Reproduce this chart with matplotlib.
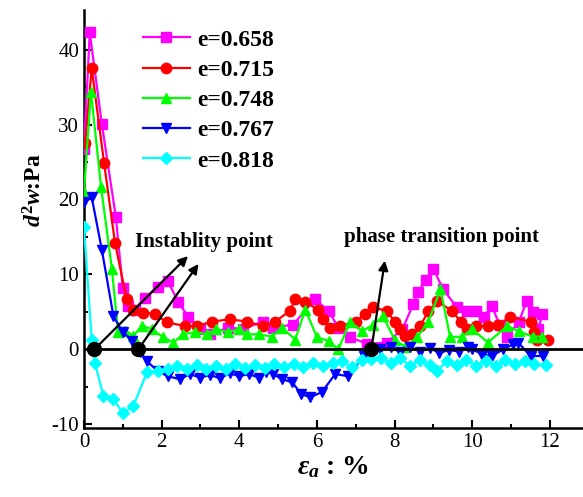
import matplotlib
matplotlib.use("Agg")
import matplotlib.pyplot as plt

plt.rcParams['font.family'] = ['Liberation Serif', 'DejaVu Serif']
plt.rcParams['mathtext.fontset'] = 'custom'
plt.rcParams['mathtext.it'] = 'Liberation Serif:italic:bold'
plt.rcParams['mathtext.rm'] = 'Liberation Serif:bold'
plt.rcParams['mathtext.bf'] = 'Liberation Serif:bold'
plt.rcParams['axes.unicode_minus'] = False

labels = ["e=0.658", "e=0.715", "e=0.748", "e=0.767", "e=0.818"]

x658 = [0, 0.15, 0.46, 0.82, 1.0, 1.14, 1.31, 1.57, 1.9, 2.16, 2.43, 2.69, 2.99, 3.25, 3.7, 4.1, 4.6, 4.87,
        5.39, 5.95, 6.3, 6.55, 6.86, 7.3, 7.8, 8.2, 8.48, 8.6, 8.8, 9.0, 9.25, 9.6, 9.87, 10.1, 10.3, 10.5,
        10.7, 10.9, 11.2, 11.4, 11.55, 11.7, 11.8]
y658 = [26.7, 42.3, 30.1, 17.7, 8.2, 5.8, 5.3, 6.9, 8.3, 9.1, 6.3, 4.3, 2.7, 2.0, 2.9, 2.7, 3.7, 2.9,
        3.3, 6.7, 5.1, 2.9, 1.6, 0.7, 0.9, 2.7, 6.0, 7.6, 9.3, 10.7, 8.0, 5.6, 5.1, 5.1, 4.3, 5.8,
        3.3, 1.7, 3.7, 6.4, 5.0, 2.7, 4.7]

x715 = [0.03, 0.2, 0.52, 0.8, 1.1, 1.27, 1.52, 1.83, 2.13, 2.6, 2.9, 3.3, 3.76, 4.2, 4.6, 4.92, 5.3, 5.44,
        5.7, 6.03, 6.16, 6.34, 6.6, 7.0, 7.24, 7.45, 7.8, 8.0, 8.14, 8.27, 8.45, 8.66, 8.87, 9.1, 9.48,
        9.7, 9.87, 10.1, 10.4, 10.67, 10.98, 11.5, 11.6, 11.67, 11.95]
y715 = [27.5, 37.5, 24.8, 14.2, 6.7, 5.3, 4.9, 4.7, 3.6, 3.1, 3.1, 3.7, 4.0, 3.7, 3.1, 3.7, 5.1, 6.7,
        6.3, 5.3, 4.0, 2.9, 3.1, 3.7, 4.7, 5.6, 5.1, 3.7, 2.7, 1.8, 2.0, 3.1, 5.1, 6.4, 5.1,
        3.7, 2.7, 3.1, 3.1, 3.3, 4.3, 3.7, 2.3, 1.3, 1.3]

x748 = [0, 0.18, 0.44, 0.72, 0.88, 1.05, 1.27, 1.5, 1.75, 2.04, 2.3, 2.56, 2.86, 3.17, 3.4, 3.7, 4.0, 4.2,
        4.5, 4.84, 5.1, 5.44, 5.7, 6.0, 6.3, 6.55, 6.86, 7.16, 7.45, 7.7, 8.0, 8.27, 8.58, 8.87, 9.18,
        9.43, 9.74, 10.0, 10.4, 10.9, 11.2, 11.55, 11.8]
y748 = [21.0, 34.4, 21.7, 10.7, 2.3, 2.5, 1.8, 3.1, 2.7, 1.6, 0.9, 2.0, 2.3, 2.0, 2.7, 2.3, 2.7, 2.0,
        2.0, 1.7, 2.9, 1.3, 5.3, 1.6, 1.1, 0.0, 3.7, 2.4, 3.3, 4.4, 1.3, 0.3, 1.6, 3.7, 8.0,
        1.6, 1.7, 2.7, 0.9, 3.1, 2.4, 1.7, 1.7]

x767 = [0, 0.2, 0.46, 0.76, 1.0, 1.24, 1.44, 1.62, 1.9, 2.16, 2.47, 2.73, 3.0, 3.25, 3.5, 3.75, 4.0, 4.25,
        4.5, 4.7, 4.87, 5.1, 5.36, 5.6, 5.83, 6.13, 6.47, 6.8, 7.2, 7.63, 7.9, 8.15, 8.4, 8.65, 8.9, 9.15,
        9.4, 9.65, 9.9, 10.0, 10.26, 10.5, 10.8, 11.06, 11.18, 11.5, 11.83]
y767 = [19.6, 20.3, 13.3, 4.4, 2.3, 1.1, -0.3, -1.6, -2.9, -3.6, -4.0, -3.3, -3.8, -3.4, -3.9, -3.2, -3.6, -3.3,
        -3.8, -3.0, -3.3, -4.0, -4.4, -6.0, -6.4, -5.7, -3.3, -3.6, -0.9, 0.0, 0.3, -0.4, 0.3, -0.3, 0.2, -0.5,
        -0.1, -0.3, 0.3, 0.0, -0.7, -0.9, 0.0, 0.7, 0.9, -0.9, -0.9]

x818 = [0, 0.2, 0.28, 0.5, 0.76, 1.0, 1.27, 1.62, 1.9, 2.16, 2.4, 2.65, 2.9, 3.15, 3.4, 3.65, 3.9, 4.15,
        4.4, 4.65, 4.9, 5.15, 5.4, 5.65, 5.9, 6.15, 6.4, 6.65, 6.9, 7.15, 7.4, 7.65, 7.9, 8.15, 8.4, 8.65,
        8.9, 9.1, 9.35, 9.6, 9.85, 10.1, 10.35, 10.6, 10.85, 11.1, 11.35, 11.6, 11.9]
y818 = [16.3, 1.3, -1.8, -6.2, -6.7, -8.5, -7.6, -3.1, -2.9, -2.7, -2.2, -2.7, -2.1, -2.6, -2.2, -2.6, -2.0, -2.5,
        -2.1, -2.5, -2.0, -2.4, -2.0, -2.4, -1.9, -2.3, -1.9, -1.5, -2.4, -1.4, -1.3, -1.1, -1.9, -1.2, -2.2, -1.4,
        -2.1, -2.9, -1.5, -2.1, -1.4, -2.2, -1.6, -2.2, -1.4, -2.0, -1.5, -2.0, -2.1]

special_x = [0.27, 1.4, 7.4]
special_y = [0, 0, 0]

series = [(x658, y658, '#FF00FF', 's'), (x715, y715, '#FF0000', 'o'), (x748, y748, '#00FF00', '^'),
          (x767, y767, '#0000FF', 'v'), (x818, y818, '#00FFFF', 'D')]

fig = plt.figure(figsize=(5.83, 4.97), dpi=100)
ax = fig.add_axes([0.144, 0.139, 0.856, 0.841])

for (xs, ys, c, m), lab in zip(series, labels):
    ax.plot(xs, ys, color=c, marker=m, markersize=7.5 if m != 'D' else 6.5, linewidth=1.6, label=lab, zorder=3)

ax.axhline(0, color='black', linewidth=2, zorder=4)
ax.plot(special_x, special_y, 'o', color='black', markersize=10, zorder=6)

arrow_kw = dict(arrowstyle='-|>', color='black', lw=1.6, mutation_scale=14)
ax.annotate('', xy=(2.73, 12.7), xytext=(0.27, 0), arrowprops=arrow_kw, zorder=7)
ax.annotate('', xy=(2.99, 11.7), xytext=(1.4, 0), arrowprops=arrow_kw, zorder=7)
ax.annotate('', xy=(7.76, 12.2), xytext=(7.4, 0), arrowprops=arrow_kw, zorder=7)

ax.text(3.1, 13.0, 'Instablity point', fontsize=15, fontweight='bold', ha='center', va='bottom')
ax.text(9.2, 13.6, 'phase transition point', fontsize=15, fontweight='bold', ha='center', va='bottom')

ax.set_xlim(0, 12.85)
ax.set_ylim(-10.5, 45.3)
ax.set_xticks([0, 2, 4, 6, 8, 10, 12])
ax.set_xticks([1, 3, 5, 7, 9, 11], minor=True)
ax.set_yticks([-10, 0, 10, 20, 30, 40])
ax.set_yticks([-5, 5, 15, 25, 35], minor=True)
ax.tick_params(which='both', direction='in', width=1.5, labelsize=15)
ax.tick_params(which='major', length=6)
ax.tick_params(which='minor', length=3)
ax.spines['top'].set_visible(False)
ax.spines['right'].set_visible(False)
ax.spines['left'].set_linewidth(1.8)
ax.spines['bottom'].set_linewidth(1.8)

ax.set_xlabel(r'$\varepsilon_a$' + ' : %', fontsize=20, fontweight='bold', labelpad=2)
ax.set_ylabel(r'$d^2w$:Pa', fontsize=17, fontweight='bold')
ax.yaxis.set_label_coords(-0.075, 0.57)

leg = ax.legend(loc='upper left', bbox_to_anchor=(0.075, 1.005), frameon=False,
                prop={'weight': 'bold', 'size': 17}, handlelength=2.0, labelspacing=0.37,
                handletextpad=0.3)

fig.savefig('out.png', dpi=100)
